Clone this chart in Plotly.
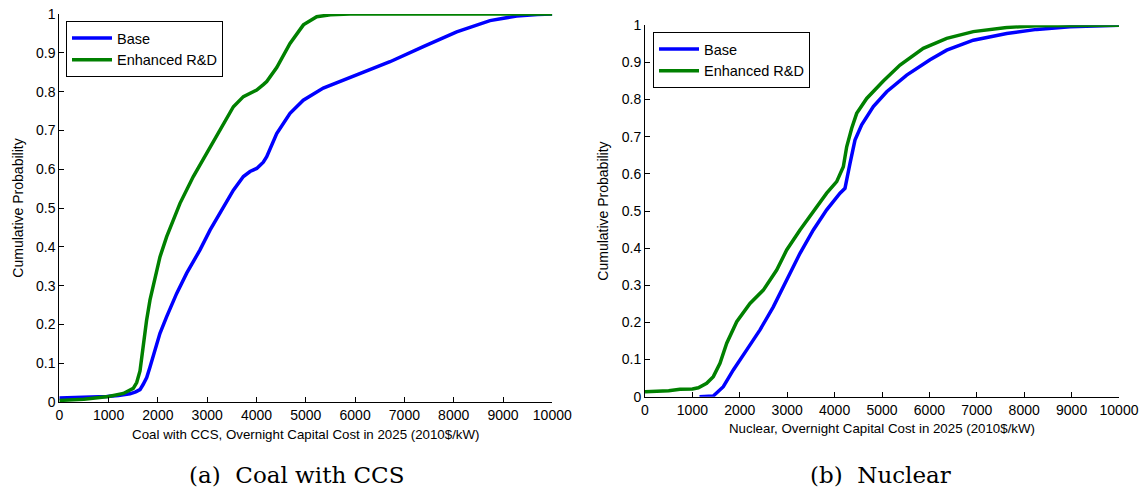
import plotly.graph_objects as go

# ---- Coal with CCS: cumulative distributions of overnight capital cost ----
coal_base_cost = [0, 500, 961, 1200, 1434, 1550, 1637, 1700, 1773, 1840, 1907, 2042, 2178,
                  2381, 2584, 2854, 3057, 3260, 3531, 3734, 3868, 4004, 4138, 4207, 4410,
                  4680, 4949, 5355, 6032, 6708, 7383, 8061, 8736, 9277, 9700, 10000]
coal_base_prob = [0.010, 0.011, 0.014, 0.017, 0.021, 0.026, 0.032, 0.045, 0.063, 0.09, 0.117,
                  0.177, 0.220, 0.280, 0.332, 0.392, 0.443, 0.486, 0.546, 0.581, 0.594, 0.602,
                  0.618, 0.632, 0.692, 0.744, 0.778, 0.809, 0.843, 0.877, 0.916, 0.954, 0.983,
                  0.995, 0.999, 1.0]

coal_rd_cost = [0, 500, 1000, 1300, 1500, 1570, 1637, 1704, 1770, 1840, 1941, 2042, 2178,
                2448, 2718, 2990, 3260, 3531, 3734, 3868, 4004, 4138, 4207, 4410, 4680,
                4951, 5221, 5500, 5896, 7000, 10000]
coal_rd_prob = [0.004, 0.007, 0.014, 0.022, 0.035, 0.05, 0.08, 0.15, 0.21, 0.263, 0.314,
                0.374, 0.426, 0.512, 0.581, 0.641, 0.701, 0.761, 0.787, 0.795, 0.804, 0.818,
                0.826, 0.862, 0.924, 0.972, 0.993, 0.998, 1.0, 1.0, 1.0]

# ---- Nuclear ----
nuc_base_cost = [1150, 1441, 1652, 1863, 2146, 2426, 2707, 2989, 3270, 3551, 3833, 4114,
                 4219, 4325, 4430, 4571, 4817, 5099, 5521, 6013, 6365, 6926, 7631, 8264,
                 8966, 10000]
nuc_base_prob = [0.0, 0.002, 0.027, 0.072, 0.126, 0.180, 0.242, 0.314, 0.386, 0.449, 0.503,
                 0.548, 0.561, 0.628, 0.691, 0.732, 0.781, 0.821, 0.866, 0.907, 0.933, 0.960,
                 0.978, 0.989, 0.996, 1.0]

nuc_rd_cost = [0, 500, 738, 1000, 1125, 1301, 1441, 1582, 1724, 1935, 2215, 2496, 2778,
               2989, 3270, 3551, 3833, 4044, 4184, 4255, 4361, 4466, 4677, 5028, 5380,
               5871, 6365, 6926, 7631, 8264, 10000]
nuc_rd_prob = [0.013, 0.016, 0.020, 0.021, 0.024, 0.036, 0.054, 0.090, 0.144, 0.202, 0.251,
               0.287, 0.341, 0.395, 0.449, 0.498, 0.548, 0.579, 0.619, 0.673, 0.723, 0.763,
               0.803, 0.850, 0.893, 0.938, 0.965, 0.983, 0.994, 0.999, 1.0]

series_names = ["Base", "Enhanced R&D"]
series_colors = ["#0000ff", "#008000"]

x_ticks = [0, 1000, 2000, 3000, 4000, 5000, 6000, 7000, 8000, 9000, 10000]
x_tick_text = ["0", "1000", "2000", "3000", "4000", "5000", "6000", "7000", "8000",
               "9000", "10000"]
y_ticks = [0, 0.1, 0.2, 0.3, 0.4, 0.5, 0.6, 0.7, 0.8, 0.9, 1.0]
y_tick_text = ["0", "0.1", "0.2", "0.3", "0.4", "0.5", "0.6", "0.7", "0.8", "0.9", "1"]

x_titles = ["Coal with CCS, Overnight Capital Cost in 2025 (2010$/kW)",
            "Nuclear, Overnight Capital Cost in 2025 (2010$/kW)"]
captions = ["(a)  Coal with CCS", "(b)  Nuclear"]

SANS = "Liberation Sans, Arial, Helvetica, sans-serif"
SERIF = "DejaVu Serif, serif"
W, H = 1147, 495

fig = go.Figure()

panels = [
    (coal_base_cost, coal_base_prob, coal_rd_cost, coal_rd_prob, "x", "y", "legend"),
    (nuc_base_cost, nuc_base_prob, nuc_rd_cost, nuc_rd_prob, "x2", "y2", "legend2"),
]
for bx, by, gx, gy, xa, ya, lg in panels:
    for xs, ys, name, col in [(bx, by, series_names[0], series_colors[0]),
                              (gx, gy, series_names[1], series_colors[1])]:
        fig.add_trace(go.Scatter(x=xs, y=ys, mode="lines", name=name,
                                 line=dict(color=col, width=3.5),
                                 xaxis=xa, yaxis=ya, legend=lg))

# plot-area boxes in pixels: (left, right, top, bottom)
boxes = [(59.3, 552.3, 14, 402), (645, 1119, 25.3, 396.7)]


def xdom(b):
    return [b[0] / W, b[1] / W]


def ydom(b):
    return [1 - b[3] / H, 1 - b[2] / H]


axis_common = dict(showgrid=False, zeroline=False, showline=True, linecolor="black",
                   linewidth=1, ticks="inside", ticklen=5, tickcolor="black", tickwidth=1,
                   mirror=False, automargin=False,
                   tickfont=dict(family=SANS, size=14, color="black"))

for i, b in enumerate(boxes):
    sfx = "" if i == 0 else str(i + 1)
    fig.update_layout(**{
        "xaxis" + sfx: dict(axis_common, domain=xdom(b), range=[0, 10000],
                            tickvals=x_ticks, ticktext=x_tick_text, anchor="y" + sfx,
                            title=dict(text=x_titles[i], standoff=7,
                                       font=dict(family=SANS, size=13.3, color="black"))),
        "yaxis" + sfx: dict(axis_common, domain=ydom(b), range=[0, 1],
                            tickvals=y_ticks, ticktext=y_tick_text, anchor="x" + sfx,
                            title=dict(text="Cumulative Probability", standoff=9,
                                       font=dict(family=SANS, size=14, color="black"))),
    })

legend_common = dict(bgcolor="white", bordercolor="black", borderwidth=1,
                     font=dict(family=SANS, size=14.5, color="black"),
                     xanchor="left", yanchor="top", tracegroupgap=0, itemwidth=40)
fig.update_layout(
    legend=dict(legend_common, x=66 / W, y=1 - 21 / H),
    legend2=dict(legend_common, x=653 / W, y=1 - 32 / H),
)

for cap, cx in zip(captions, [296, 880]):
    fig.add_annotation(text=cap, x=cx / W, y=1 - 475 / H, xref="paper", yref="paper",
                       showarrow=False, xanchor="center", yanchor="middle",
                       font=dict(family=SERIF, size=23, color="black"))

fig.update_layout(template="none", width=W, height=H,
                  margin=dict(l=0, r=0, t=0, b=0, autoexpand=False),
                  paper_bgcolor="white", plot_bgcolor="white", showlegend=True)

fig.write_html("out.html")
